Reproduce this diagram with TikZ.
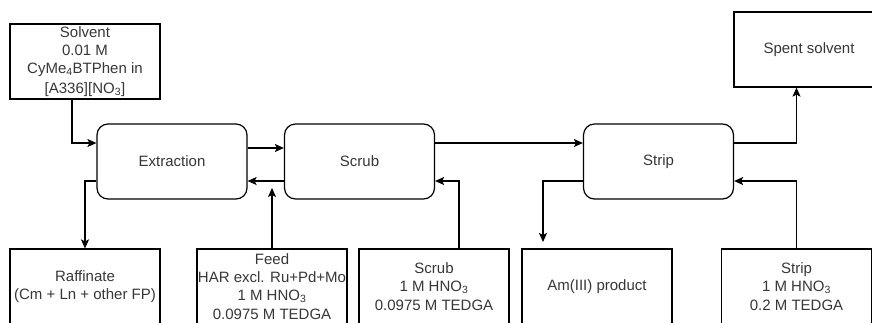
\documentclass[tikz,border=0pt]{standalone}
\usepackage{fontspec}
\setmainfont{Liberation Sans}
\usetikzlibrary{arrows.meta}
\definecolor{txt}{RGB}{55,55,55}
\newcommand{\sbs}[1]{\textsubscript{#1}}
\begin{document}
\begin{tikzpicture}[x=1pt,y=-1pt,
  every node/.style={font=\fontsize{15}{17.8}\selectfont, text=txt, align=center, inner sep=0pt},
  box/.style={draw=black, line width=1.2pt, minimum width=150pt, minimum height=75pt},
  stage/.style={box, rounded corners=11pt},
  arr/.style={draw=black, line width=1.2pt, -{Stealth[length=9pt,width=8pt,inset=2pt]}}]
\useasboundingbox (0,0) rectangle (872,322);
\clip (0,0) rectangle (872,322);
\fill[white] (0,0) rectangle (872,322);
% top boxes
\node[box] (sol) at (85,61.5) {Solvent\\0.01 M\\CyMe\sbs{4}BTPhen in\\[2pt][A336][NO\sbs{3}]};
\node[box] (spent) at (809,49.5) {Spent solvent};
% stages
\node[stage] (ext) at (172,161.5) {Extraction};
\node[stage] (scr) at (359.5,161.5) {Scrub};
\node[stage] (str) at (658.5,161.5) {Strip};
% bottom boxes
\node[box] (raf) at (85,286.5) {Raffinate\\(Cm + Ln + other FP)};
\node[box] (feed) at (272,286.5) {Feed\\HAR excl. Ru+Pd+Mo\\1 M HNO\sbs{3}\\[1pt]0.0975 M TEDGA};
\node[box] (scrf) at (434,286.5) {Scrub\\1 M HNO\sbs{3}\\[1pt]0.0975 M TEDGA};
\node[box] (am) at (597,286.5) {Am(III) product};
\node[box] (strf) at (796.5,286.5) {Strip\\1 M HNO\sbs{3}\\[1pt]0.2 M TEDGA};
% free ends
\coordinate (feedend) at (272,188);
\coordinate (amend) at (543,242);
% connectors
\draw[arr] ([xshift=-13pt]sol.south) |- ([yshift=18.5pt]ext.west);
\draw[arr] ([yshift=13.5pt]ext.east) -- ([yshift=13.5pt]scr.west);
\draw[arr] ([yshift=-19.5pt]scr.west) -- ([yshift=-19.5pt]ext.east);
\draw[arr] ([yshift=18.5pt]scr.east) -- ([yshift=18.5pt]str.west);
\draw[arr] ([yshift=18.5pt]str.east) -| (spent.south -| strf.north);
\draw[arr] (strf.north) |- ([yshift=-19.5pt]str.east);
\draw[arr] ([xshift=25pt]scrf.north) |- ([yshift=-19.5pt]scr.east);
\draw[arr] (feed.north) -- (feedend);
\draw[arr] ([yshift=-19.5pt]ext.west) -| (raf.north);
\draw[arr] ([yshift=-19.5pt]str.west) -| (amend);
\end{tikzpicture}
\end{document}
